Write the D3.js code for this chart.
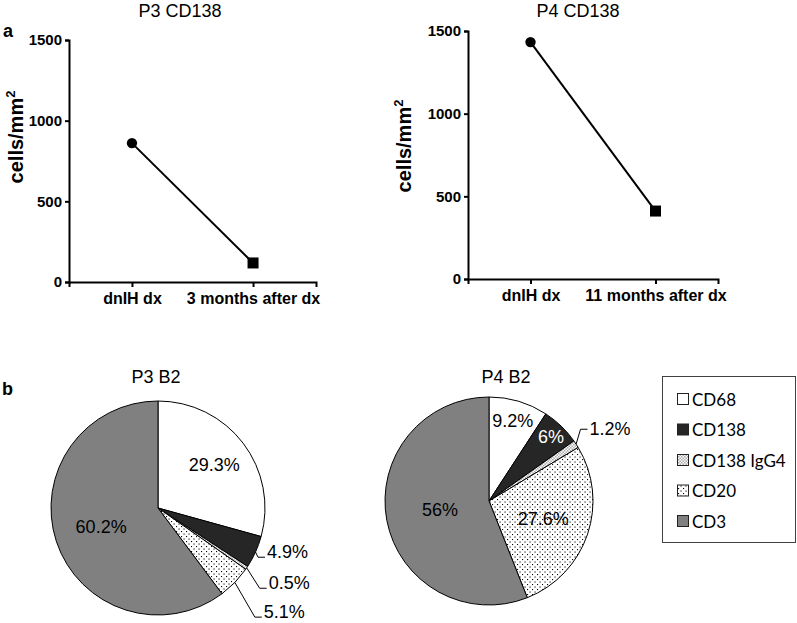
<!DOCTYPE html>
<html><head><meta charset="utf-8">
<script src="https://cdn.jsdelivr.net/npm/d3@7"></script>
<style>
body{margin:0;background:#fff;}
svg{display:block;}
</style></head>
<body>
<svg id="chart" width="797" height="623"></svg>
<script>
// ---------- data ----------
const lineCats3 = ["dnIH dx", "3 months after dx"];
const lineVals3 = [861, 118];
const lineCats4 = ["dnIH dx", "11 months after dx"];
const lineVals4 = [1433, 411];
const yTicks = [0, 500, 1000, 1500];

const pieCats = ["CD68", "CD138", "CD138 IgG4", "CD20", "CD3"];
const pieP3 = [29.3, 4.9, 0.5, 5.1, 60.2];
const pieP4 = [9.2, 6, 1.2, 27.6, 56];
const pieP3Labels = ["29.3%", "4.9%", "0.5%", "5.1%", "60.2%"];
const pieP4Labels = ["9.2%", "6%", "1.2%", "27.6%", "56%"];

// ---------- setup ----------
const svg = d3.select("#chart");
const defs = svg.append("defs");
const FONT = "'Liberation Sans', Arial, sans-serif";

// dotted pattern (CD20)
const dots = defs.append("pattern").attr("id","dots").attr("patternUnits","userSpaceOnUse")
  .attr("width",5).attr("height",5);
dots.append("rect").attr("width",5).attr("height",5).attr("fill","#fff");
dots.append("rect").attr("x",0.5).attr("y",0.5).attr("width",1.1).attr("height",1.1).attr("fill","#000");
dots.append("rect").attr("x",3).attr("y",3).attr("width",1.1).attr("height",1.1).attr("fill","#000");
// checker pattern (CD138 IgG4)
const chk = defs.append("pattern").attr("id","chk").attr("patternUnits","userSpaceOnUse")
  .attr("width",3).attr("height",3);
chk.append("rect").attr("width",3).attr("height",3).attr("fill","#fff");
chk.append("rect").attr("width",1.5).attr("height",1.5).attr("fill","#aaa");
chk.append("rect").attr("x",1.5).attr("y",1.5).attr("width",1.5).attr("height",1.5).attr("fill","#aaa");

const fills = ["#ffffff", "#262626", "url(#chk)", "url(#dots)", "#808080"];

// ---------- line charts ----------
function lineChart(o){
  const g = svg.append("g");
  const x = d3.scalePoint().domain(o.cats).range([o.x0, o.x1]).padding(o.pad);
  const y = d3.scaleLinear().domain([0,1500]).range([o.y0, o.y1]);
  const xa = g.append("g").attr("transform",`translate(0,${o.y0})`)
    .call(d3.axisBottom(x).tickSizeOuter(0).tickSize(5).tickPadding(6));
  const ya = g.append("g").attr("transform",`translate(${o.x0},0)`)
    .call(d3.axisLeft(y).tickValues(yTicks).tickFormat(d3.format("d")).tickSizeOuter(0).tickSize(4).tickPadding(3));
  [xa, ya].forEach(a=>{
    a.selectAll("path,line").attr("stroke","#000").attr("stroke-width",2);
    a.selectAll("text").attr("font-family",FONT).attr("font-weight","bold").attr("fill","#000");
  });
  xa.selectAll("text").attr("font-size",16);
  ya.selectAll("text").attr("font-size",15);
  const pts = o.cats.map((c,i)=>[x(c), y(o.vals[i])]);
  g.append("path").attr("d", d3.line()(pts)).attr("fill","none").attr("stroke","#000").attr("stroke-width",2);
  g.append("circle").attr("cx",pts[0][0]).attr("cy",pts[0][1]).attr("r",5.2).attr("fill","#000");
  g.append("rect").attr("x",pts[1][0]-5.5).attr("y",pts[1][1]-5.5).attr("width",11).attr("height",11).attr("fill","#000");
  g.append("text").attr("x",o.tx).attr("y",17).attr("text-anchor","middle")
    .attr("font-family",FONT).attr("font-size",18).text(o.title);
  const yl = g.append("text").attr("transform",`translate(${o.ylx},${o.yly}) rotate(-90)`)
    .attr("text-anchor","middle").attr("font-family",FONT).attr("font-weight","bold").attr("font-size",20);
  yl.append("tspan").text("cells/mm");
  yl.append("tspan").attr("dy",-8).attr("font-size",13).text("2");
}
lineChart({cats:lineCats3, vals:lineVals3, x0:69, x1:316, pad:0.52, y0:282, y1:40, tx:180, title:"P3 CD138", ylx:23, yly:137});
lineChart({cats:lineCats4, vals:lineVals4, x0:468, x1:718, pad:0.5, y0:279, y1:31, tx:578, title:"P4 CD138", ylx:411, yly:146});

svg.append("text").attr("x",3).attr("y",37).attr("font-family",FONT).attr("font-weight","bold").attr("font-size",18).text("a");
svg.append("text").attr("x",2).attr("y",395).attr("font-family",FONT).attr("font-weight","bold").attr("font-size",18).text("b");

// ---------- pies ----------
function pieChart(o){
  const g = svg.append("g").attr("transform",`translate(${o.cx},${o.cy})`);
  const arcs = d3.pie().sort(null).value(d=>d)(o.vals);
  const arc = d3.arc().innerRadius(0).outerRadius(o.r);
  g.selectAll("path.sl").data(arcs).join("path").attr("class","sl")
    .attr("d",arc).attr("fill",(d,i)=>fills[i]).attr("stroke","#000").attr("stroke-width",1);
  arcs.forEach((a,i)=>{
    const mid = (a.startAngle + a.endAngle)/2;
    const inner = o.inside[i];
    if (inner != null){
      const k = inner*o.r;
      g.append("text").attr("x",k*Math.sin(mid)).attr("y",-k*Math.cos(mid))
        .attr("text-anchor","middle").attr("dominant-baseline","central")
        .attr("font-family",FONT).attr("font-size",18)
        .attr("fill", i===1 ? "#fff" : "#000").text(o.labels[i]);
    } else {
      const lo = o.outside[i];
      const sx = o.r*Math.sin(mid), sy = -o.r*Math.cos(mid);
      const ex = lo[0]*o.r, ey = lo[1]*o.r;
      g.append("path").attr("d",`M${sx},${sy}L${ex},${ey}H${ex+7}`)
        .attr("fill","none").attr("stroke","#000").attr("stroke-width",1);
      g.append("text").attr("x",ex+9).attr("y",ey + o.textDy)
        .attr("font-family",FONT).attr("font-size",18).text(o.labels[i]);
    }
  });
  svg.append("text").attr("x",o.tx).attr("y",383).attr("text-anchor","middle")
    .attr("font-family",FONT).attr("font-size",18).text(o.title);
}
pieChart({cx:158, cy:508, r:107, vals:pieP3, labels:pieP3Labels, title:"P3 B2", tx:156,
  inside:[0.66, null, null, null, 0.56],
  outside:[null,[0.935,0.46],[0.95,0.75],[0.905,1.02],null], textDy:1});
pieChart({cx:489, cy:501, r:104, vals:pieP4, labels:pieP4Labels, title:"P4 B2", tx:506,
  inside:[0.8, 0.86, null, 0.55, 0.48],
  outside:[null,null,[0.88,-0.69],null,null], textDy:6});

// ---------- legend ----------
const lg = svg.append("g");
lg.append("rect").attr("x",662.5).attr("y",376.5).attr("width",133).attr("height",166)
  .attr("fill","#fff").attr("stroke","#404040").attr("stroke-width",1);
const ly = d3.scalePoint().domain(pieCats).range([399, 521]);
pieCats.forEach((c,i)=>{
  lg.append("rect").attr("x",677.5).attr("y",ly(c)-5.5).attr("width",11).attr("height",11)
    .attr("fill",fills[i]).attr("stroke","#222").attr("stroke-width",1);
  lg.append("text").attr("x",692).attr("y",ly(c)).attr("dominant-baseline","central")
    .attr("font-family","Lato, 'Open Sans', sans-serif").attr("font-size",17).text(c);
});
</script>
</body></html>
